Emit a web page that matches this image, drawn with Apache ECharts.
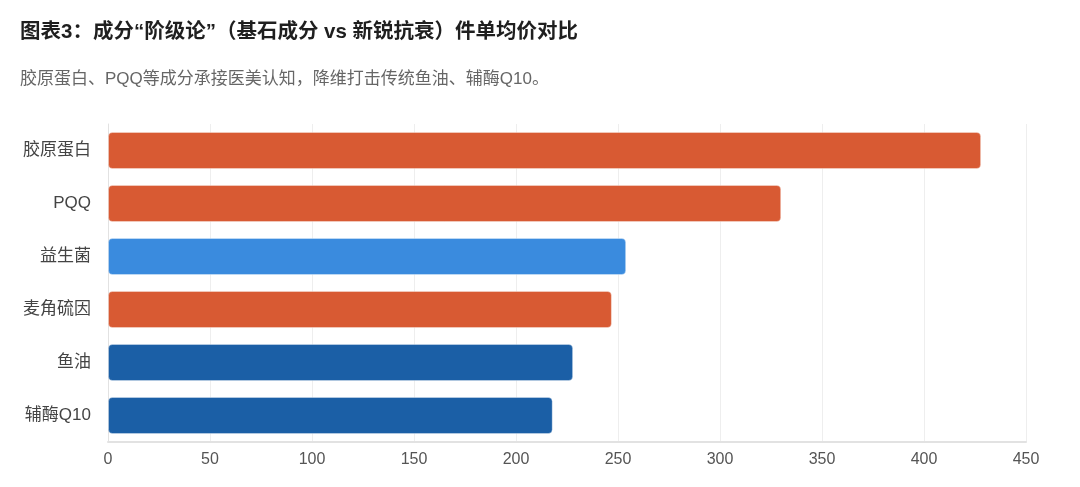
<!DOCTYPE html>
<html>
<head>
<meta charset="utf-8">
<script src="https://cdn.jsdelivr.net/npm/echarts@6/dist/echarts.min.js"></script>
<style>
  html, body { margin: 0; padding: 0; background: #fff; }
  #chart { width: 1080px; height: 487px; }
</style>
</head>
<body>
<div id="chart"></div>
<script>
// 数据
var categories = ['胶原蛋白', 'PQQ', '益生菌', '麦角硫因', '鱼油', '辅酶Q10'];
var prices = [428, 330, 254, 247, 228, 218];
// 成分类别: new = 新锐抗衰, probiotic = 益生菌, base = 基石成分
var kinds = ['new', 'new', 'probiotic', 'new', 'base', 'base'];
var xTicks = [0, 50, 100, 150, 200, 250, 300, 350, 400, 450];

var kindColor = {
    'new': '#d85a33',
    'probiotic': '#3a8bde',
    'base': '#1b5fa6'
};

var FONT = "'Liberation Sans', 'Noto Sans CJK SC', sans-serif";

var chart = echarts.init(document.getElementById('chart'));

var option = {
    animation: false,
    title: [
        {
            text: '图表3：成分“阶级论”（基石成分 vs 新锐抗衰）件单均价对比',
            left: 20,
            top: 22,
            padding: 0,
            textStyle: {
                fontFamily: FONT,
                fontSize: 20.5,
                fontWeight: 'bold',
                color: '#1f1f1f'
            }
        },
        {
            text: '胶原蛋白、PQQ等成分承接医美认知，降维打击传统鱼油、辅酶Q10。',
            left: 20,
            top: 71,
            padding: 0,
            textStyle: {
                fontFamily: FONT,
                fontSize: 17,
                fontWeight: 'normal',
                color: '#666'
            }
        }
    ],
    grid: {
        left: 108,
        right: 54,
        top: 124,
        bottom: 45,
        containLabel: false
    },
    xAxis: {
        type: 'value',
        min: xTicks[0],
        max: xTicks[xTicks.length - 1],
        interval: xTicks[1] - xTicks[0],
        axisLine: { show: true, lineStyle: { color: '#e2e2e2', width: 2 } },
        axisTick: { show: false },
        axisLabel: {
            color: '#555',
            fontSize: 16,
            fontFamily: FONT,
            margin: 10
        },
        splitLine: { show: true, lineStyle: { color: '#eeeeee', width: 1 } }
    },
    yAxis: {
        type: 'category',
        inverse: true,
        data: categories,
        axisLine: { show: true, lineStyle: { color: '#e2e2e2', width: 1 } },
        axisTick: { show: false },
        axisLabel: {
            color: '#444',
            fontSize: 17,
            fontFamily: FONT,
            margin: 17
        }
    },
    series: [
        {
            type: 'bar',
            barCategoryGap: '30%',
            data: prices.map(function (v, i) {
                return {
                    value: v,
                    itemStyle: { color: kindColor[kinds[i]] }
                };
            }),
            itemStyle: {
                borderRadius: 4,
                borderColor: 'rgba(255,255,255,0.35)',
                borderWidth: 1
            }
        }
    ]
};

chart.setOption(option);
</script>
</body>
</html>
